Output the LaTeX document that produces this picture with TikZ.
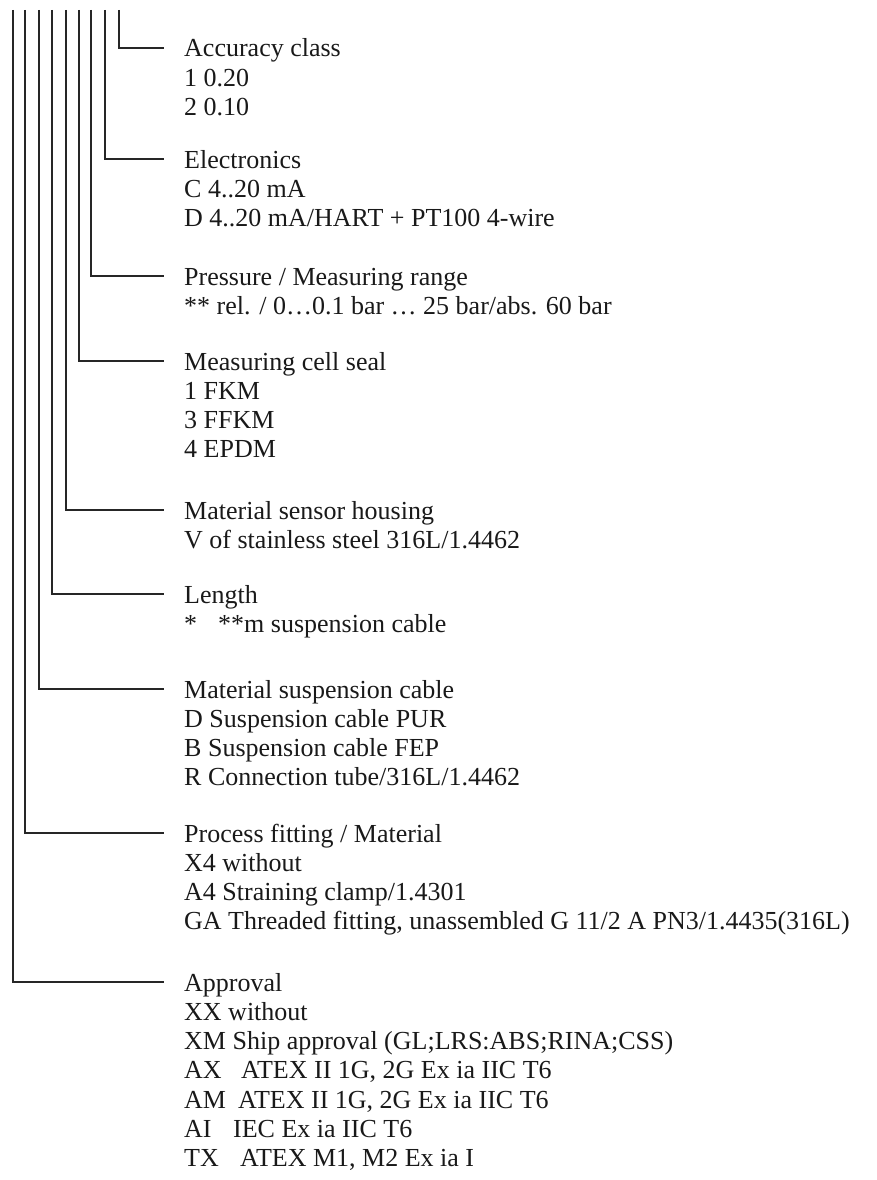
\documentclass[tikz,border=0pt]{standalone}
\usepackage{fontspec}
\setmainfont{Liberation Serif}
\begin{document}
\begin{tikzpicture}[x=1pt,y=-1pt,
  txt/.style={anchor=west,inner sep=0pt,text height=18pt,text depth=0pt,font=\fontsize{26}{29}\selectfont,text=black!90},
  lead/.style={line width=1.3pt,draw=black!85}]
\useasboundingbox (0,0) rectangle (876,1180);
\def\ls{29.3}
% group 1
\coordinate (t1) at (119,10);
\node[txt] (h1) at (184,48) {Accuracy class};
\node[txt] (a1) at (184,48+\ls) {1 0.20};
\node[txt] (a2) at (184,48+2*\ls) {2 0.10};
% group 2
\coordinate (t2) at (105,10);
\node[txt] (h2) at (184,159) {Electronics};
\node[txt] (b1) at (184,159+\ls) {C 4..20 mA};
\node[txt] (b2) at (184,159+2*\ls) {D 4..20 mA/HART + PT100 4-wire};
% group 3
\coordinate (t3) at (91,10);
\node[txt] (h3) at (184,276) {Pressure / Measuring range};
\node[txt] (c1) at (184,276+\ls) {** rel. / 0…0.1 bar … 25 bar/abs. 60 bar};
% group 4
\coordinate (t4) at (79,10);
\node[txt] (h4) at (184,361) {Measuring cell seal};
\node[txt] (d1) at (184,361+\ls) {1 FKM};
\node[txt] (d2) at (184,361+2*\ls) {3 FFKM};
\node[txt] (d3) at (184,361+3*\ls) {4 EPDM};
% group 5
\coordinate (t5) at (66,10);
\node[txt] (h5) at (184,510) {Material sensor housing};
\node[txt] (e1) at (184,510+\ls) {V of stainless steel 316L/1.4462};
% group 6
\coordinate (t6) at (52,10);
\node[txt] (h6) at (184,594) {Length};
\node[txt] (f1) at (184,594+\ls) {\makebox[34pt][l]{*}**m suspension cable};
% group 7
\coordinate (t7) at (39,10);
\node[txt] (h7) at (184,689) {Material suspension cable};
\node[txt] (g1) at (184,689+\ls) {D Suspension cable PUR};
\node[txt] (g2) at (184,689+2*\ls) {B Suspension cable FEP};
\node[txt] (g3) at (184,689+3*\ls) {R Connection tube/316L/1.4462};
% group 8
\coordinate (t8) at (25,10);
\node[txt] (h8) at (184,833) {Process fitting / Material};
\node[txt] (k1) at (184,833+\ls) {X4 without};
\node[txt] (k2) at (184,833+2*\ls) {A4 Straining clamp/1.4301};
\node[txt] (k3) at (184,833+3*\ls) {GA Threaded fitting, unassembled G 11/2 A PN3/1.4435(316L)};
% group 9
\coordinate (t9) at (13,10);
\node[txt] (h9) at (184,982) {Approval};
\node[txt] (m1) at (184,982+\ls) {XX without};
\node[txt] (m2) at (184,982+2*\ls) {XM Ship approval (GL;LRS:ABS;RINA;CSS)};
\node[txt] (m3) at (184,982+3*\ls) {\makebox[57pt][l]{AX}ATEX II 1G, 2G Ex ia IIC T6};
\node[txt] (m4) at (184,982+4*\ls) {\makebox[54pt][l]{AM}ATEX II 1G, 2G Ex ia IIC T6};
\node[txt] (m5) at (184,982+5*\ls) {\makebox[49pt][l]{AI}IEC Ex ia IIC T6};
\node[txt] (m6) at (184,982+6*\ls) {\makebox[56pt][l]{TX}ATEX M1, M2 Ex ia I};
% leaders
\foreach \i in {1,...,9}{
  \draw[lead] (t\i) |- ([xshift=-20pt]h\i.west);
}
\end{tikzpicture}
\end{document}
